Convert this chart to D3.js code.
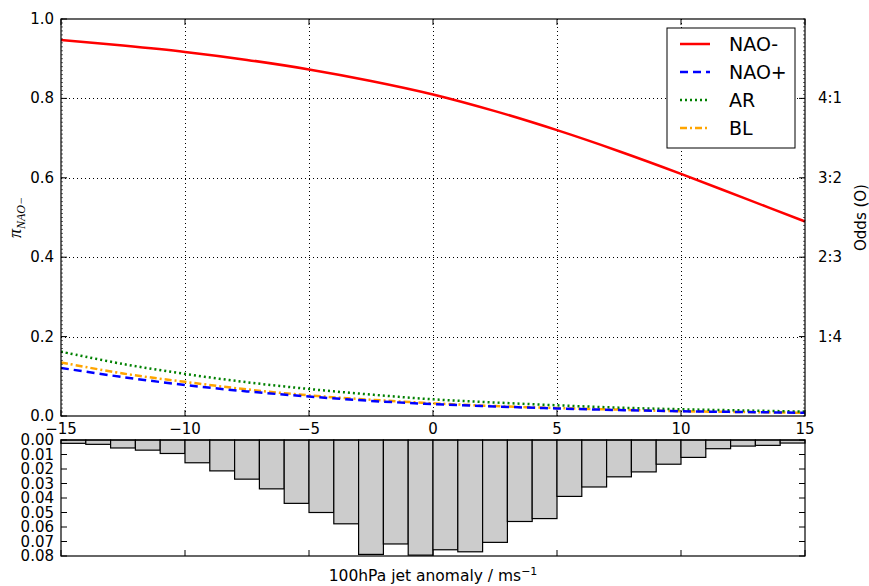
<!DOCTYPE html>
<html>
<head>
<meta charset="utf-8">
<script src="https://cdn.jsdelivr.net/npm/d3@7"></script>
<style>
  body { margin: 0; background: #fff; }
  text { font-family: "DejaVu Sans", sans-serif; fill: #000; }
</style>
</head>
<body>
<svg></svg>
<script>
// curve samples (x = jet anomaly, m/s)
const xs = [-15, -12.5, -10, -7.5, -5, -2.5, 0, 2.5, 5, 7.5, 10, 12.5, 15];
const naoMinus = [0.947, 0.933, 0.917, 0.897, 0.873, 0.844, 0.81, 0.768, 0.72, 0.667, 0.61, 0.55, 0.49];
const naoPlus  = [0.121, 0.098, 0.078, 0.062, 0.049, 0.038, 0.030, 0.024, 0.019, 0.015, 0.012, 0.010, 0.008];
const ar       = [0.162, 0.131, 0.106, 0.085, 0.068, 0.054, 0.042, 0.034, 0.027, 0.021, 0.017, 0.014, 0.011];
const bl       = [0.135, 0.107, 0.086, 0.067, 0.052, 0.041, 0.032, 0.025, 0.020, 0.016, 0.012, 0.010, 0.008];

// histogram, bins of 1 m/s from -15 to 15
const binEdges = d3.range(-15, 15, 1);
const freq = [0.0023, 0.003, 0.0055, 0.007, 0.0093, 0.0157, 0.0213, 0.027, 0.0337, 0.0437,
              0.050, 0.0578, 0.0789, 0.0717, 0.0794, 0.0757, 0.0771, 0.0706, 0.0562, 0.0542,
              0.0389, 0.0324, 0.0254, 0.022, 0.0167, 0.012, 0.006, 0.0042, 0.0037, 0.0021];

const xTicks = [-15, -10, -5, 0, 5, 10, 15];
const yTicks = [0.0, 0.2, 0.4, 0.6, 0.8, 1.0];
const oddsTicks = [0.2, 0.4, 0.6, 0.8];
const oddsLabels = ["1:4", "2:3", "3:2", "4:1"];
const histTicks = [0, 0.01, 0.02, 0.03, 0.04, 0.05, 0.06, 0.07, 0.08];

const series = [
  {name: "NAO-", values: naoMinus, color: "#ff0000", dash: null},
  {name: "NAO+", values: naoPlus, color: "#0000ff", dash: "8,5"},
  {name: "AR", values: ar, color: "#008000", dash: "2,3"},
  {name: "BL", values: bl, color: "#ffa500", dash: "7,3,2,3"}
];

const W = 869, H = 586;
const left = 61, right = 805;
const top1 = 19, bot1 = 416;
const top2 = 440, bot2 = 556;

const svg = d3.select("svg").attr("width", W).attr("height", H);

const x = d3.scaleLinear().domain([-15, 15]).range([left, right]);
const y = d3.scaleLinear().domain([0, 1]).range([bot1, top1]);
const yh = d3.scaleLinear().domain([0, 0.08]).range([top2, bot2]);

// grid
const grid = svg.append("g").attr("stroke", "#000").attr("stroke-width", 1)
  .attr("stroke-dasharray", "1,3");
grid.selectAll(".gx").data([-10, -5, 0, 5, 10]).enter().append("line")
  .attr("x1", d => Math.round(x(d)) + 0.5).attr("x2", d => Math.round(x(d)) + 0.5)
  .attr("y1", top1).attr("y2", bot1);
grid.selectAll(".gy").data([0.2, 0.4, 0.6, 0.8]).enter().append("line")
  .attr("x1", left).attr("x2", right)
  .attr("y1", d => Math.round(y(d)) + 0.5).attr("y2", d => Math.round(y(d)) + 0.5);

// curves
const line = d3.line()
  .x((d, i) => x(xs[i]))
  .y(d => y(d))
  .curve(d3.curveCatmullRom);

svg.append("g").selectAll("path").data(series.slice().reverse()).enter().append("path")
  .attr("d", d => line(d.values))
  .attr("fill", "none")
  .attr("stroke", d => d.color)
  .attr("stroke-width", 2.5)
  .attr("stroke-dasharray", d => d.dash);

// top frame
svg.append("rect").attr("x", left).attr("y", top1)
  .attr("width", right - left).attr("height", bot1 - top1)
  .attr("fill", "none").attr("stroke", "#000").attr("stroke-width", 1.2);

// ticks, inward
const tk = svg.append("g").attr("stroke", "#000").attr("stroke-width", 1);
yTicks.forEach(v => {
  tk.append("line").attr("x1", left).attr("x2", left + 6).attr("y1", y(v)).attr("y2", y(v));
});
oddsTicks.forEach(v => {
  tk.append("line").attr("x1", right).attr("x2", right - 6).attr("y1", y(v)).attr("y2", y(v));
});
d3.range(0, 1.0001, 0.01).forEach(v => {
  tk.append("line").attr("x1", left).attr("x2", left + 2).attr("y1", y(v)).attr("y2", y(v))
    .attr("stroke-width", 0.6);
  tk.append("line").attr("x1", right).attr("x2", right - 2).attr("y1", y(v)).attr("y2", y(v))
    .attr("stroke-width", 0.6);
});
xTicks.forEach(v => {
  tk.append("line").attr("x1", x(v)).attr("x2", x(v)).attr("y1", bot1).attr("y2", bot1 - 6);
  tk.append("line").attr("x1", x(v)).attr("x2", x(v)).attr("y1", top1).attr("y2", top1 + 6);
});

// tick labels
svg.append("g").selectAll("text").data(yTicks).enter().append("text")
  .attr("x", left - 7).attr("y", d => y(d) + 5)
  .attr("text-anchor", "end").style("font-size", "15px")
  .text(d => d.toFixed(1));

svg.append("g").selectAll("text").data(oddsTicks).enter().append("text")
  .attr("x", right + 13).attr("y", d => y(d) + 5)
  .style("font-size", "15px")
  .text((d, i) => oddsLabels[i]);

svg.append("g").selectAll("text").data(xTicks).enter().append("text")
  .attr("x", d => x(d)).attr("y", 434)
  .attr("text-anchor", "middle").style("font-size", "15px")
  .text(d => d < 0 ? "\u2212" + Math.abs(d) : d);

// axis titles
const yl = svg.append("text")
  .attr("transform", `translate(21,${(top1 + bot1) / 2}) rotate(-90)`)
  .attr("text-anchor", "middle")
  .style("font-family", "'Liberation Serif', serif").style("font-style", "italic")
  .style("font-size", "18px");
yl.append("tspan").text("\u03c0");
yl.append("tspan").attr("dy", 4).style("font-size", "12px").text("NAO\u2212");

svg.append("text")
  .attr("transform", `translate(866,${(top1 + bot1) / 2}) rotate(-90)`)
  .attr("text-anchor", "middle").style("font-size", "15px")
  .text("Odds (O)");

const xl = svg.append("text")
  .attr("x", 433).attr("y", 581).attr("text-anchor", "middle").style("font-size", "15.5px");
xl.append("tspan").text("100hPa jet anomaly / ms");
xl.append("tspan").attr("dy", -6).style("font-size", "11px").attr("fill", "#000").text("\u22121");

// legend
const lg = svg.append("g").attr("transform", "translate(667,28)");
lg.append("rect").attr("width", 128).attr("height", 120)
  .attr("fill", "#fff").attr("stroke", "#000").attr("stroke-width", 1);
const item = lg.selectAll(".item").data(series).enter().append("g")
  .attr("transform", (d, i) => `translate(0,${16 + i * 28})`);
item.append("line").attr("x1", 13).attr("x2", 43)
  .attr("stroke", d => d.color).attr("stroke-width", 2.5)
  .attr("stroke-dasharray", d => d.dash);
item.append("text").attr("x", 62).attr("y", 7).style("font-size", "19px").text(d => d.name);

// histogram
svg.append("g").selectAll("rect").data(freq).enter().append("rect")
  .attr("x", (d, i) => x(binEdges[i]))
  .attr("y", yh(0))
  .attr("width", (d, i) => x(binEdges[i] + 1) - x(binEdges[i]))
  .attr("height", d => yh(d) - yh(0))
  .attr("fill", "#cccccc").attr("stroke", "#000").attr("stroke-width", 1.2);

svg.append("rect").attr("x", left).attr("y", top2)
  .attr("width", right - left).attr("height", bot2 - top2)
  .attr("fill", "none").attr("stroke", "#000").attr("stroke-width", 1.2);

const tk2 = svg.append("g").attr("stroke", "#000").attr("stroke-width", 1);
histTicks.forEach(v => {
  tk2.append("line").attr("x1", left).attr("x2", left + 6).attr("y1", yh(v)).attr("y2", yh(v));
  tk2.append("line").attr("x1", right).attr("x2", right - 6).attr("y1", yh(v)).attr("y2", yh(v));
});
xTicks.forEach(v => {
  tk2.append("line").attr("x1", x(v)).attr("x2", x(v)).attr("y1", bot2).attr("y2", bot2 - 6);
});

svg.append("g").selectAll("text").data(histTicks).enter().append("text")
  .attr("x", left - 7).attr("y", d => yh(d) + 5)
  .attr("text-anchor", "end").style("font-size", "15px")
  .text(d => d.toFixed(2));
</script>
</body>
</html>
